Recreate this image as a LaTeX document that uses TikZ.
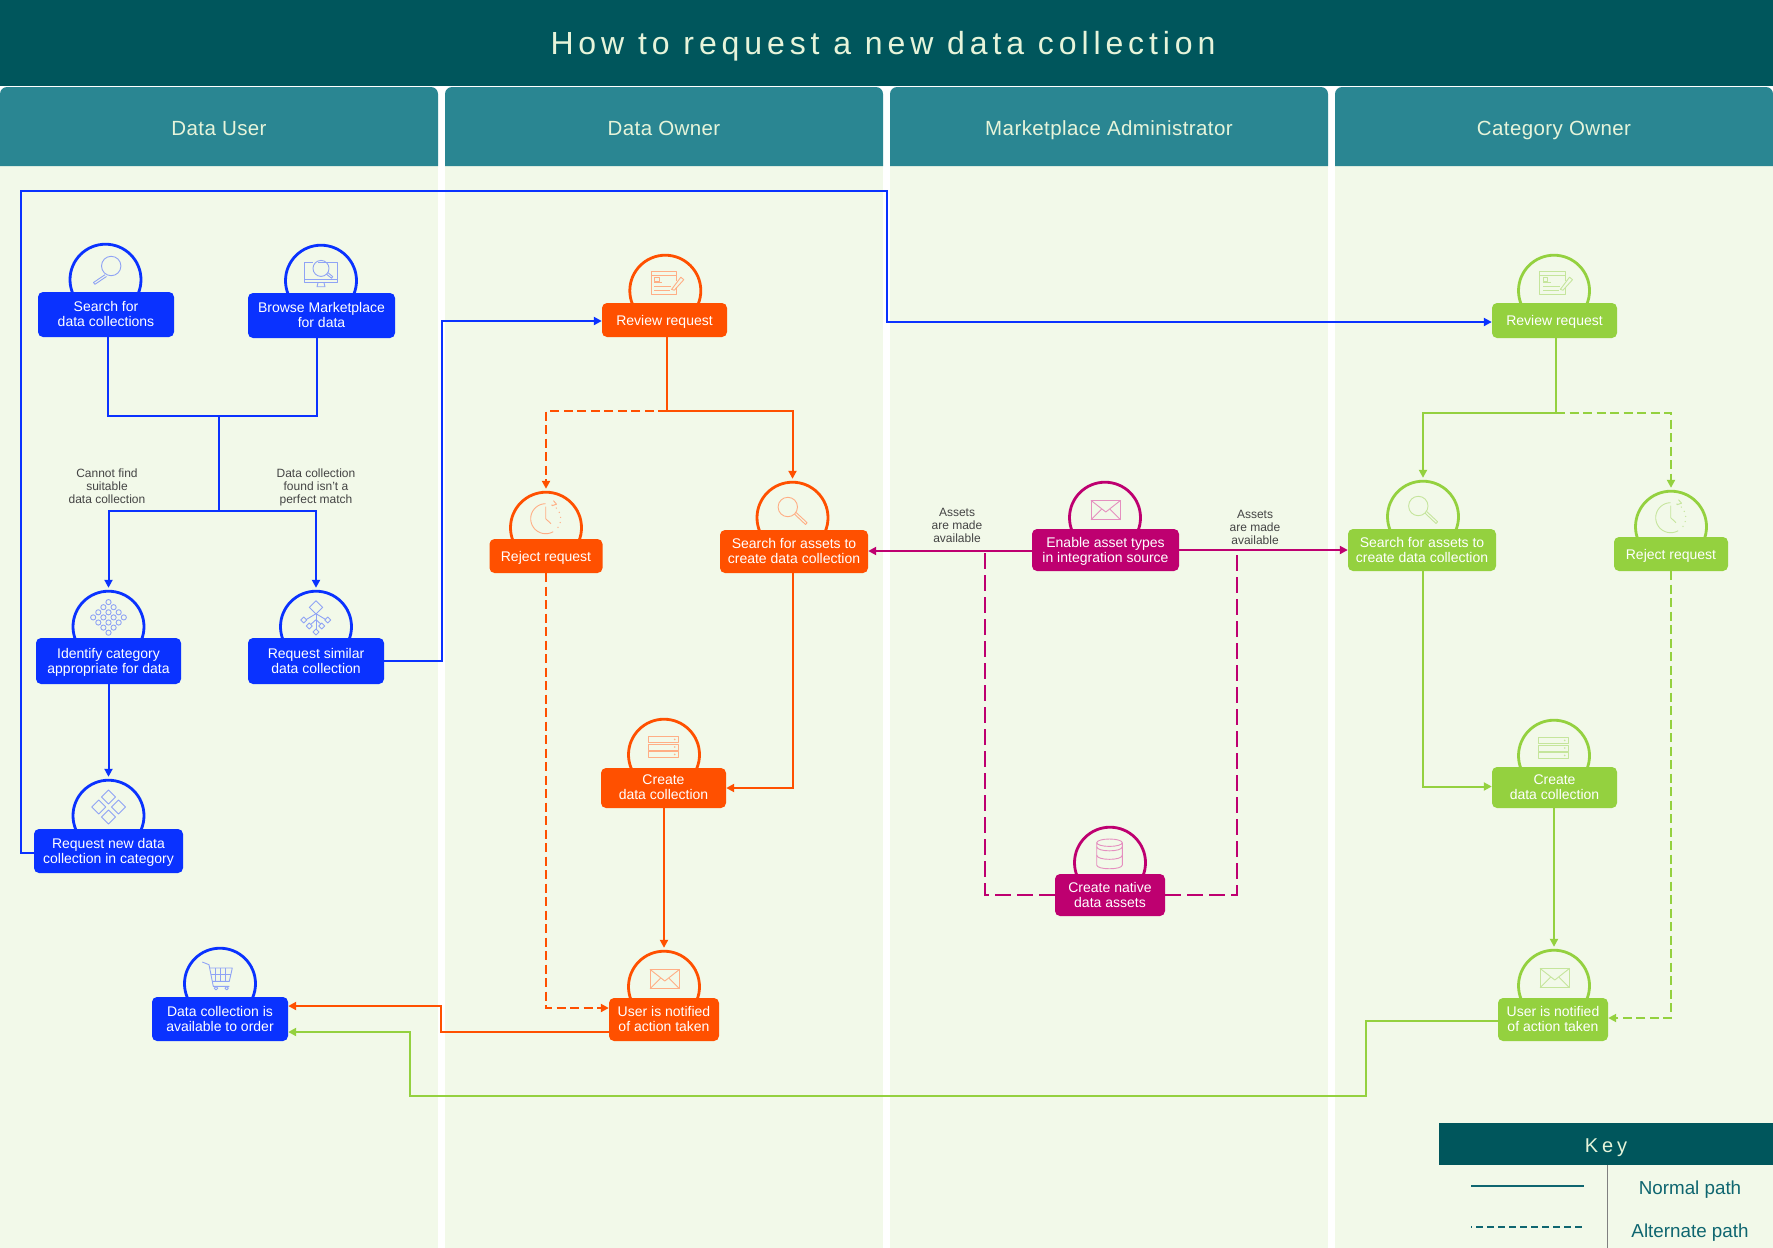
\documentclass[tikz,border=0pt]{standalone}
\usepackage{fontspec}
\setmainfont{Liberation Sans}
\newfontfamily\titlefont[LetterSpace=15.3]{Liberation Sans}
\newfontfamily\headfont[LetterSpace=2]{Liberation Sans}
\newfontfamily\keyfont[LetterSpace=20]{Liberation Sans}
\usetikzlibrary{arrows.meta}

\definecolor{bannerteal}{HTML}{00565C}
\definecolor{headteal}{HTML}{2A8692}
\definecolor{lanefill}{HTML}{F2F9E9}
\definecolor{headtext}{HTML}{E6F4DA}
\definecolor{keyline}{HTML}{0F6670}
\definecolor{notegray}{HTML}{444444}
\definecolor{userblue}{HTML}{0A32FF}
\definecolor{ownerorange}{HTML}{FF5000}
\definecolor{adminmagenta}{HTML}{BE0070}
\definecolor{categorygreen}{HTML}{94D13F}
\definecolor{bluetint}{HTML}{8FA3F5}
\definecolor{orangetint}{HTML}{FFAE85}
\definecolor{magentatint}{HTML}{E58FBF}
\definecolor{greentint}{HTML}{C5E59C}

\tikzset{
    >={Triangle[length=8pt,width=8pt]},
    lane/.style={fill=lanefill},
    banner/.style={fill=bannerteal, minimum width=1773pt, minimum height=86pt, inner sep=0},
    bannertitle/.style={text=headtext, inner sep=0, font=\titlefont\fontsize{32pt}{36pt}\selectfont, text height=23pt, text depth=0pt},
    lanehead/.style={text=headtext, anchor=base, font=\headfont\fontsize{20.5pt}{24pt}\selectfont},
    sized/.style 2 args={minimum width=#1pt, minimum height=#2pt},
    stepbox/.style={rectangle, rounded corners=5pt, text=white, align=center, inner sep=0, text depth=1pt, font=\fontsize{14pt}{15pt}\selectfont},
    oneline/.style={text height=11pt},
    stepdome/.style={circle, line width=2.8pt, minimum size=71pt, inner sep=0},
    userbox/.style={stepbox, fill=userblue},
    ownerbox/.style={stepbox, fill=ownerorange},
    adminbox/.style={stepbox, fill=adminmagenta},
    categorybox/.style={stepbox, fill=categorygreen},
    userdome/.style={stepdome, draw=userblue},
    ownerdome/.style={stepdome, draw=ownerorange},
    admindome/.style={stepdome, draw=adminmagenta},
    categorydome/.style={stepdome, draw=categorygreen},
    userpath/.style={line width=2pt, color=userblue},
    ownerpath/.style={line width=2pt, color=ownerorange},
    adminpath/.style={line width=2pt, color=adminmagenta},
    categorypath/.style={line width=2pt, color=categorygreen},
    alternate/.style={dash pattern=on 9pt off 4.5pt},
    longalternate/.style={dash pattern=on 16pt off 6pt},
    pathnote/.style={align=center, text=notegray, inner sep=0, font=\fontsize{12pt}{13pt}\selectfont},
    keytext/.style={text=keyline, inner sep=0, anchor=base, font=\fontsize{18.8pt}{20pt}\selectfont},
    iconline/.style={line width=.9pt, line join=round},
    % icons, drawn around the centre of their dome
    lensleft/.pic={
        \draw[iconline, #1] (5.7,-13.7) circle (9.7);
        \draw[iconline, #1] (-.5,-5) -- (-12,2.8) -- (-10.6,4.6) -- (1,-3.2);
    },
    lensright/.pic={
        \draw[iconline, #1] (-4.7,-10.7) circle (9.7);
        \draw[iconline, #1] (2,-3.6) -- (13,6.8) -- (14.6,5) -- (3.6,-5.2);
    },
    monitorlens/.pic={
        \draw[iconline, #1] (-3,-18) -| (16,2) -| (-16.3,-18) -- (-8,-18);
        \draw[iconline, #1] (-16.3,-1) -- (16,-1);
        \draw[iconline, #1] (-3,2) -- (-4,6) -- (4,6) -- (3,2);
        \draw[iconline, #1] (0,-12.3) circle (8);
        \draw[iconline, #1] (5.5,-6.5) -- (10.5,-2.5) -- (11.8,-4) -- (7,-8);
    },
    lattice/.pic={
        \foreach \i in {0,1,2,3} \foreach \j in {0,1,2,3}
            \draw[iconline, #1] ({(\i-\j)*5.1},{-9.3+(\i+\j-3)*5.1}) circle (2.6);
    },
    diamondtree/.pic={
        \draw[iconline, #1] (0,-26) -- (6.7,-19.3) -- (0,-12.6) -- (-6.7,-19.3) -- cycle;
        \draw[iconline, #1] (0,-12.6) -- (0,2.3);
        \draw[iconline, #1] (-10,-7) -- (0,-13) -- (10,-7);
        \draw[iconline, #1] (-5,-2.5) -- (0,-7) -- (5,-2.5);
        \foreach \x/\y in {-12.3/-6.7, 11.7/-6.7, -6.7/-.7, 5.7/-.7, 0/5.3}
            \draw[iconline, #1] (\x-3,\y) -- (\x,\y-3) -- (\x+3,\y) -- (\x,\y+3) -- cycle;
    },
    fourdiamonds/.pic={
        \foreach \x/\y in {0/-18.7, -9.7/-8.7, 10/-8.7, 0/1.3}
            \draw[iconline, #1] (\x-7,\y) -- (\x,\y-7) -- (\x+7,\y) -- (\x,\y+7) -- cycle;
    },
    cart/.pic={
        \draw[iconline, #1] (-17.7,-21.7) -- (-11,-19) -- (-6.7,2.7) -- (9.3,2.7);
        \draw[iconline, #1] (-10,-15.7) -- (12.3,-15.7) -- (9.3,-2.3) -- (-7.7,-2.3);
        \draw[iconline, #1] (-8.8,-9) -- (10.8,-9);
        \foreach \x in {-5,0,5}
            \draw[iconline, #1] (\x,-15.7) -- (\x,-2.3);
        \draw[iconline, #1] (-4,4.5) circle (1.7) (6.7,4.5) circle (1.7);
    },
    formpencil/.pic={
        \draw[iconline, #1] (11.3,-4) -- (11.3,3.7) -| (-14.3,-19) -| (11.3,-10);
        \draw[iconline, #1] (-14.3,-15) -- (11.3,-15);
        \draw[iconline, #1] (-11,-13.3) rectangle (-6.3,-9);
        \draw[iconline, #1] (-11,-8) -- (-3,-8) (-11,-4) -- (6,-4) (-11,-.7) -- (5,-.7);
        \draw[iconline, #1] (6.3,-1.3) -- (15.5,-13.5) -- (18.5,-11) -- (9,-.5) -- cycle;
    },
    clockicon/.pic={
        \draw[iconline, #1] plot[domain=-300:-90, samples=30] ({-.3+15*cos(\x)},{-9+15*sin(\x)});
        \foreach \a in {-65,-45,...,45}
            \fill[#1] ({-.3+15*cos(\a)},{-9+15*sin(\a)}) circle (.7);
        \draw[iconline, #1] (7.5,-27) -- (10.5,-23.5) -- (6,-22);
        \draw[iconline, #1] (-.3,-21) -- (-.3,-9) -- (5,-4);
    },
    serverstack/.pic={
        \foreach \y in {-18.3,-10.7,-3.3} {
            \draw[iconline, #1] (-16,\y) rectangle (14.7,\y+6);
            \fill[#1] (10.7,\y+3) circle (.9);
        }
    },
    envelope/.pic={
        \draw[iconline, #1] (-14,-17.3) rectangle (15.5,2);
        \draw[iconline, #1] (-14,-17.3) -- (.8,-5.7) -- (15.5,-17.3);
        \draw[iconline, #1] (-14,2) -- (-3.5,-8.5) (15.5,2) -- (5,-8.5);
    },
    cylinder/.pic={
        \draw[iconline, #1] (-.5,-20) ellipse (12.8 and 3.7);
        \draw[iconline, #1] (-13.3,-20) -- (-13.3,2.3) .. controls (-13.3,7.3) and (12.3,7.3) .. (12.3,2.3) -- (12.3,-20);
        \draw[iconline, #1] (-13.3,-16) .. controls (-13.3,-10.5) and (12.3,-10.5) .. (12.3,-16);
        \draw[iconline, #1] (-13.3,-7.5) .. controls (-13.3,-2) and (12.3,-2) .. (12.3,-7.5);
    },
}

\begin{document}
\begin{tikzpicture}[x=1pt, y=-1pt]
    \useasboundingbox (0,0) rectangle (1773,1248);

    \foreach \left/\title in {0/Data User, 445/Data Owner, 890/Marketplace Administrator, 1335/Category Owner} {
        \fill[lane] (\left,150) rectangle (\left+438,1248);
        \fill[headteal] (\left,166) [rounded corners=7pt] -- (\left,87) -- (\left+438,87) [sharp corners] -- (\left+438,166) -- cycle;
        \node[lanehead] (head-\left) at (\left+219,135) {\title};
    }
    \node[banner] (banner) at (886.5,43) {};
    \node[bannertitle] (banner-title) at (883,43) {How to request a new data collection};

    % data user
    \node[userdome] (search-data-dome) at (105.5,279.7) {};
    \pic at (search-data-dome) {lensleft=bluetint};
    \node[userbox, sized={136}{45}] (search-data) at (106,314.5) {Search for\\data collections};
    \node[userdome] (browse-dome) at (321,280.7) {};
    \pic at (browse-dome) {monitorlens=bluetint};
    \node[userbox, sized={147}{45}] (browse) at (321.5,315.5) {Browse Marketplace\\for data};
    \node[userdome] (identify-dome) at (108.5,626.7) {};
    \pic at (identify-dome) {lattice=bluetint};
    \node[userbox, sized={145}{46}] (identify) at (108.5,661) {Identify category\\appropriate for data};
    \node[userdome] (similar-dome) at (316,626.7) {};
    \pic at (similar-dome) {diamondtree=bluetint};
    \node[userbox, sized={136}{46}] (similar) at (316,661) {Request similar\\data collection};
    \node[userdome] (request-new-dome) at (108.5,815.7) {};
    \pic at (request-new-dome) {fourdiamonds=bluetint};
    \node[userbox, sized={149}{44}] (request-new) at (108.5,851) {Request new data\\collection in category};
    \node[userdome] (available-dome) at (220,983.7) {};
    \pic at (available-dome) {cart=bluetint};
    \node[userbox, sized={136}{44}] (available) at (220,1019) {Data collection is\\available to order};

    % data owner
    \node[ownerdome] (review-owner-dome) at (665.3,290.7) {};
    \pic at (review-owner-dome) {formpencil=orangetint};
    \node[ownerbox, oneline, sized={125}{34}] (review-owner) at (664.5,320) {Review request};
    \node[ownerdome] (reject-owner-dome) at (546,527.7) {};
    \pic at (reject-owner-dome) {clockicon=orangetint};
    \node[ownerbox, oneline, sized={113}{34}] (reject-owner) at (546,556) {Reject request};
    \node[ownerdome] (search-owner-dome) at (792.5,517.7) {};
    \pic at (search-owner-dome) {lensright=orangetint};
    \node[ownerbox, sized={148}{43}] (search-owner) at (794,551.5) {Search for assets to\\create data collection};
    \node[ownerdome] (create-owner-dome) at (664,754.7) {};
    \pic at (create-owner-dome) {serverstack=orangetint};
    \node[ownerbox, sized={125}{40}] (create-owner) at (663.5,788) {Create\\data collection};
    \node[ownerdome] (notified-owner-dome) at (664,986.7) {};
    \pic at (notified-owner-dome) {envelope=orangetint};
    \node[ownerbox, sized={110}{43}] (notified-owner) at (664,1019.5) {User is notified\\of action taken};

    % marketplace administrator
    \node[admindome] (enable-dome) at (1105,517.7) {};
    \pic at (enable-dome) {envelope=magentatint};
    \node[adminbox, sized={147}{42}] (enable) at (1105.5,550) {Enable asset types\\in integration source};
    \node[admindome] (native-dome) at (1110,862.7) {};
    \pic at (native-dome) {cylinder=magentatint};
    \node[adminbox, sized={110}{42}] (native) at (1110,895) {Create native\\data assets};

    % category owner
    \node[categorydome] (review-category-dome) at (1554,290.7) {};
    \pic at (review-category-dome) {formpencil=greentint};
    \node[categorybox, oneline, sized={125}{35}] (review-category) at (1554.5,320.5) {Review request};
    \node[categorydome] (search-category-dome) at (1423,516.7) {};
    \pic at (search-category-dome) {lensright=greentint};
    \node[categorybox, sized={148}{42}] (search-category) at (1422,550) {Search for assets to\\create data collection};
    \node[categorydome] (reject-category-dome) at (1671,526.7) {};
    \pic at (reject-category-dome) {clockicon=greentint};
    \node[categorybox, oneline, sized={114}{34}] (reject-category) at (1671,554) {Reject request};
    \node[categorydome] (create-category-dome) at (1554,755.7) {};
    \pic at (create-category-dome) {serverstack=greentint};
    \node[categorybox, sized={125}{41}] (create-category) at (1554.5,787.5) {Create\\data collection};
    \node[categorydome] (notified-category-dome) at (1554,985.7) {};
    \pic at (notified-category-dome) {envelope=greentint};
    \node[categorybox, sized={110}{43}] (notified-category) at (1553,1019.5) {User is notified\\of action taken};

    % bends of the connectors
    \coordinate (user-fork) at (219,416);
    \coordinate (user-split) at (219,511);
    \coordinate (similar-bend) at (442,321);
    \coordinate (loop-corner) at (21,191);
    \coordinate (loop-drop) at (887,322);
    \coordinate (owner-fork) at (667,411);
    \coordinate (category-fork) at (1556,413);
    \coordinate (owner-return) at (441,1006);
    \coordinate (category-return) at (410,1032);
    \coordinate (category-dip) at (1366,1096);
    \coordinate (admin-left) at (985,551);
    \coordinate (admin-right) at (1237,550);

    \draw[userpath] ([xshift=2pt]search-data.south) |- (user-fork) -| ([xshift=-4.5pt]browse.south);
    \draw[userpath] (user-fork) -- (user-split);
    \draw[userpath, ->, shorten >=2pt] (user-split) -| (identify-dome.north);
    \draw[userpath, ->, shorten >=2pt] (user-split) -| (similar-dome.north);
    \draw[userpath, ->, shorten >=2pt] (identify.south) -- (request-new-dome.north);
    \draw[userpath, ->] (similar.east) -| (similar-bend) -- ([yshift=-1pt]review-owner.west);
    \draw[userpath, ->] ([yshift=-2pt]request-new.west) -| (loop-corner) -| (loop-drop) -- ([yshift=-1.5pt]review-category.west);

    \draw[ownerpath] ([xshift=2.5pt]review-owner.south) -- (owner-fork);
    \draw[ownerpath, ->, shorten >=2pt] (owner-fork) -| (search-owner-dome.north);
    \draw[ownerpath, alternate, ->, shorten >=2pt] (owner-fork) -| (reject-owner-dome.north);
    \draw[ownerpath, ->] ([xshift=-1.5pt]search-owner.south) |- (create-owner.east);
    \draw[ownerpath, ->, shorten >=2pt] ([xshift=.5pt]create-owner.south) -- (notified-owner-dome.north);
    \draw[ownerpath, alternate, ->] (reject-owner.south) |- ([yshift=11.5pt]notified-owner.west);
    \draw[ownerpath, ->] ([yshift=-12pt]notified-owner.west) -| (owner-return) -- ([yshift=13pt]available.east);

    \draw[adminpath, ->] ([yshift=-1pt]enable.west) -- ([yshift=.5pt]search-owner.east);
    \draw[adminpath, ->] (enable.east) -- (search-category.west);
    \draw[adminpath, longalternate] (native.west) -| (admin-left);
    \draw[adminpath, longalternate] (native.east) -| (admin-right);

    \draw[categorypath] ([xshift=1.5pt]review-category.south) -- (category-fork);
    \draw[categorypath, ->, shorten >=2pt] (category-fork) -| (search-category-dome.north);
    \draw[categorypath, alternate, ->, shorten >=2pt] (category-fork) -| (reject-category-dome.north);
    \draw[categorypath, ->] ([xshift=1pt]search-category.south) |- ([yshift=1pt]create-category.west);
    \draw[categorypath, ->, shorten >=2pt] ([xshift=-.5pt]create-category.south) -- (notified-category-dome.north);
    \draw[categorypath, alternate, ->] (reject-category.south) |- ([yshift=1.5pt]notified-category.east);
    \draw[categorypath, ->] ([yshift=-1.5pt]notified-category.west) -| (category-dip) -| (category-return) -- ([yshift=-13pt]available.east);

    % notes
    \node[pathnote] (note-cannot) at (107,486) {Cannot find\\suitable\\data collection};
    \node[pathnote] (note-similar) at (316,487) {Data collection\\found isn't a\\perfect match};
    \node[pathnote] (note-assets-owner) at (957,525) {Assets\\are made\\available};
    \node[pathnote] (note-assets-category) at (1255,527) {Assets\\are made\\available};

    % key
    \node[fill=bannerteal, sized={334}{42}, inner sep=0] (key-head) at (1606,1144) {};
    \node[text=headtext, anchor=base, inner sep=0, font=\keyfont\fontsize{20pt}{24pt}\selectfont] (key-title) at (1606,1152) {Key};
    \coordinate (key-foot) at (1607,1248);
    \coordinate (key-normal-start) at (1471,1186);
    \coordinate (key-normal-end) at (1584,1186);
    \coordinate (key-alternate-start) at (1471,1227);
    \coordinate (key-alternate-end) at (1584,1227);
    \draw[line width=1pt, gray] ([xshift=1pt]key-head.south) -- (key-foot);
    \draw[line width=2pt, keyline] (key-normal-start) -- (key-normal-end);
    \draw[line width=2pt, keyline, dash pattern=on 7pt off 4pt, dash phase=6pt] (key-alternate-start) -- (key-alternate-end);
    \node[keytext] (key-normal) at (1690,1194) {Normal path};
    \node[keytext] (key-alternate) at (1690,1237) {Alternate path};
\end{tikzpicture}
\end{document}
